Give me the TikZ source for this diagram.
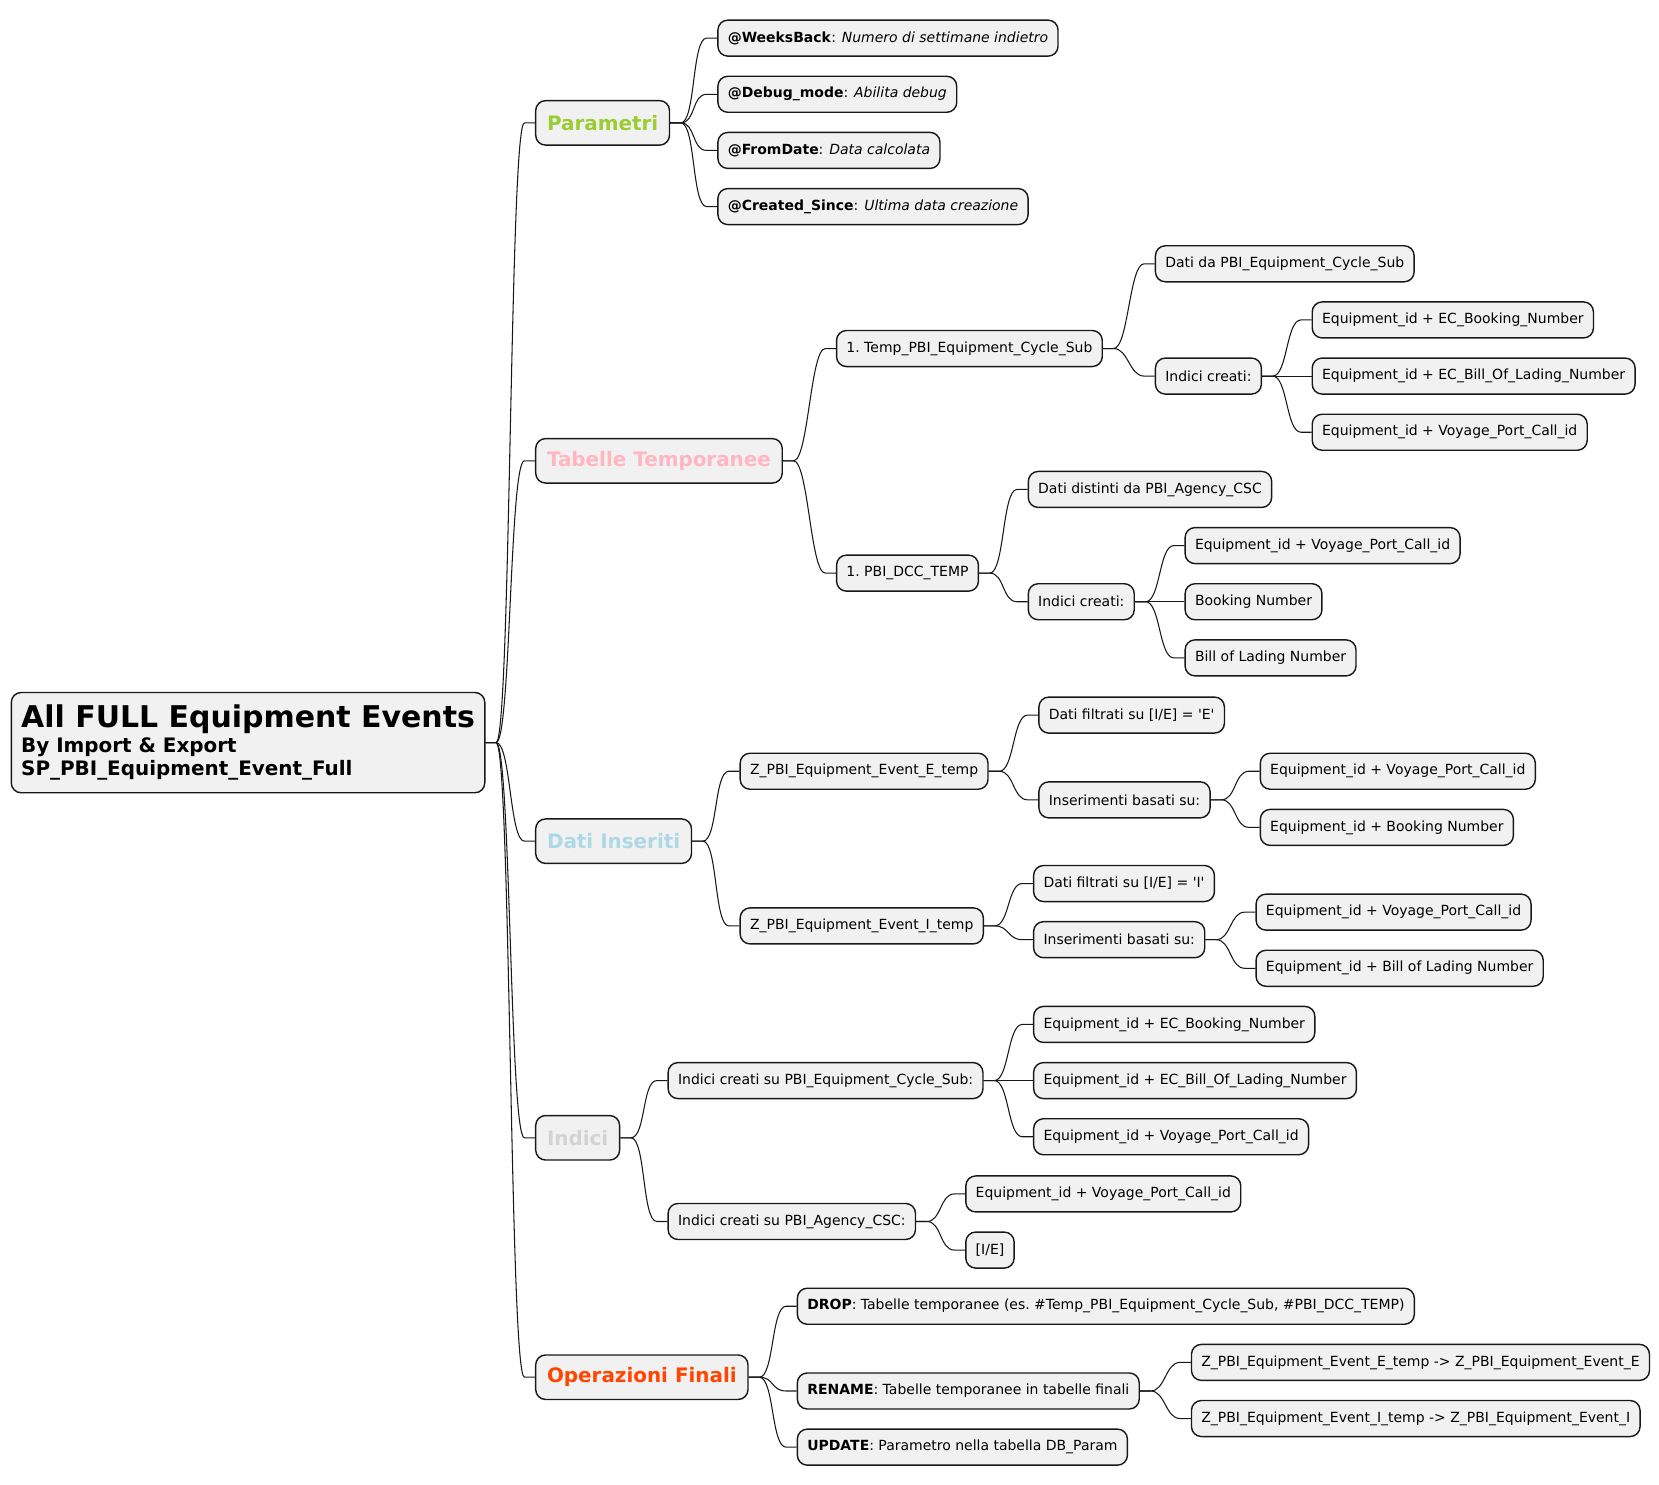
\documentclass[tikz,border=0pt]{standalone}
\usepackage{fontspec}
\setmainfont{DejaVu Sans}
\usetikzlibrary{calc}

\definecolor{boxgray}{RGB}{241,241,241}
\definecolor{boxline}{RGB}{24,24,24}
\definecolor{topicgreen}{RGB}{154,205,50}
\definecolor{topicpink}{RGB}{255,182,193}
\definecolor{topicblue}{RGB}{173,216,230}
\definecolor{topicgray}{RGB}{211,211,211}
\definecolor{topicred}{RGB}{255,69,0}

\tikzset{every picture/.style={line width=0.75pt}}
\tikzset{
  leaf/.style={draw=boxline, fill=boxgray, rounded corners=7pt, line width=1pt, anchor=west,
    inner xsep=7pt, inner ysep=2pt, minimum height=25.5pt, font=\fontsize{9.9}{12}\selectfont},
  topic/.style={leaf, inner xsep=8pt, minimum height=31.5pt, font=\fontsize{14.1}{17}\selectfont\bfseries},
  rootbox/.style={leaf, align=left, inner xsep=7pt, minimum height=71pt, font=\fontsize{14.1}{16.5}\selectfont\bfseries},
  link/.style={draw=boxline, line width=0.75pt}
}

\begin{document}
\begin{tikzpicture}[x=0.75pt,y=0.75pt,yscale=-1,xscale=1]
  \useasboundingbox (0,0) rectangle (1566,1401);

  % Root Node
  \node [rootbox] (root) at (10,701) {{\fontsize{21.2}{24}\selectfont All FULL Equipment Events}\\[1pt]By Import \& Export\\SP\_PBI\_Equipment\_Event\_Full};

  % Text Node
  \node [topic, text=topicgreen] (para) at (505,116) {Parametri};
  % Text Node
  \node [topic, text=topicpink] (tabt) at (505,435) {Tabelle Temporanee};
  % Text Node
  \node [topic, text=topicblue] (dati) at (505,794) {Dati Inseriti};
  % Text Node
  \node [topic, text=topicgray] (idx) at (505,1074) {Indici};
  % Text Node
  \node [topic, text=topicred] (oper) at (505,1300) {Operazioni Finali};

  % Parametri
  \node [leaf] (pweeks) at (677,36) {\textbf{@WeeksBack}: \textit{Numero di settimane indietro}};
  \node [leaf] (pdebug) at (677,89) {\textbf{@Debug\_mode}: \textit{Abilita debug}};
  \node [leaf] (pfrom) at (677,142) {\textbf{@FromDate}: \textit{Data calcolata}};
  \node [leaf] (pcreated) at (677,195) {\textbf{@Created\_Since}: \textit{Ultima data creazione}};

  % Tabelle Temporanee
  \node [leaf] (ttemp) at (789,329) {1.\ Temp\_PBI\_Equipment\_Cycle\_Sub};
  \node [leaf] (tdcc) at (789,541) {1.\ PBI\_DCC\_TEMP};
  \node [leaf] (ttempdati) at (1090,249) {Dati da PBI\_Equipment\_Cycle\_Sub};
  \node [leaf] (ttempidx) at (1090,355) {Indici creati:};
  \node [leaf] (ttempa) at (1238,302) {Equipment\_id + EC\_Booking\_Number};
  \node [leaf] (ttempb) at (1238,355) {Equipment\_id + EC\_Bill\_Of\_Lading\_Number};
  \node [leaf] (ttempc) at (1238,408) {Equipment\_id + Voyage\_Port\_Call\_id};
  \node [leaf] (tdccdati) at (970,462) {Dati distinti da PBI\_Agency\_CSC};
  \node [leaf] (tdccidx) at (970,568) {Indici creati:};
  \node [leaf] (tdcca) at (1118,515) {Equipment\_id + Voyage\_Port\_Call\_id};
  \node [leaf] (tdccb) at (1118,568) {Booking Number};
  \node [leaf] (tdccc) at (1118,621) {Bill of Lading Number};

  % Dati Inseriti
  \node [leaf] (dete) at (698,728) {Z\_PBI\_Equipment\_Event\_E\_temp};
  \node [leaf] (deti) at (698,874) {Z\_PBI\_Equipment\_Event\_I\_temp};
  \node [leaf] (detef) at (980,675) {Dati filtrati su [I/E] = \textquotesingle E\textquotesingle};
  \node [leaf] (detei) at (980,755) {Inserimenti basati su:};
  \node [leaf] (deteia) at (1189,728) {Equipment\_id + Voyage\_Port\_Call\_id};
  \node [leaf] (deteib) at (1189,781) {Equipment\_id + Booking Number};
  \node [leaf] (detif) at (975,834) {Dati filtrati su [I/E] = \textquotesingle I\textquotesingle};
  \node [leaf] (detii) at (975,887) {Inserimenti basati su:};
  \node [leaf] (detiia) at (1185,861) {Equipment\_id + Voyage\_Port\_Call\_id};
  \node [leaf] (detiib) at (1185,914) {Equipment\_id + Bill of Lading Number};

  % Indici
  \node [leaf] (icycle) at (630,1020) {Indici creati su PBI\_Equipment\_Cycle\_Sub:};
  \node [leaf] (iagency) at (630,1153) {Indici creati su PBI\_Agency\_CSC:};
  \node [leaf] (icyclea) at (975,967) {Equipment\_id + EC\_Booking\_Number};
  \node [leaf] (icycleb) at (975,1020) {Equipment\_id + EC\_Bill\_Of\_Lading\_Number};
  \node [leaf] (icyclec) at (975,1073) {Equipment\_id + Voyage\_Port\_Call\_id};
  \node [leaf] (iagencya) at (911,1127) {Equipment\_id + Voyage\_Port\_Call\_id};
  \node [leaf] (iagencyb) at (911,1180) {[I/E]};

  % Operazioni Finali
  \node [leaf] (odrop) at (752,1233) {\textbf{DROP}: Tabelle temporanee (es.\ \#Temp\_PBI\_Equipment\_Cycle\_Sub, \#PBI\_DCC\_TEMP)};
  \node [leaf] (orename) at (752,1313) {\textbf{RENAME}: Tabelle temporanee in tabelle finali};
  \node [leaf] (oupdate) at (752,1366) {\textbf{UPDATE}: Parametro nella tabella DB\_Param};
  \node [leaf] (orenamee) at (1124,1286) {Z\_PBI\_Equipment\_Event\_E\_temp -> Z\_PBI\_Equipment\_Event\_E};
  \node [leaf] (orenamei) at (1124,1339) {Z\_PBI\_Equipment\_Event\_I\_temp -> Z\_PBI\_Equipment\_Event\_I};

  % Curve Lines
  \draw [link] (root.east) -- ++(10,0) .. controls +(14,0) and +(-14,0) .. ($(para.west)+(-10,0)$) -- (para.west);
  \draw [link] (root.east) -- ++(10,0) .. controls +(14,0) and +(-14,0) .. ($(tabt.west)+(-10,0)$) -- (tabt.west);
  \draw [link] (root.east) -- ++(10,0) .. controls +(14,0) and +(-14,0) .. ($(dati.west)+(-10,0)$) -- (dati.west);
  \draw [link] (root.east) -- ++(10,0) .. controls +(14,0) and +(-14,0) .. ($(idx.west)+(-10,0)$) -- (idx.west);
  \draw [link] (root.east) -- ++(10,0) .. controls +(14,0) and +(-14,0) .. ($(oper.west)+(-10,0)$) -- (oper.west);
  % Curve Lines
  \draw [link] (para.east) -- ++(10,0) .. controls +(14,0) and +(-14,0) .. ($(pweeks.west)+(-10,0)$) -- (pweeks.west);
  \draw [link] (para.east) -- ++(10,0) .. controls +(14,0) and +(-14,0) .. ($(pdebug.west)+(-10,0)$) -- (pdebug.west);
  \draw [link] (para.east) -- ++(10,0) .. controls +(14,0) and +(-14,0) .. ($(pfrom.west)+(-10,0)$) -- (pfrom.west);
  \draw [link] (para.east) -- ++(10,0) .. controls +(14,0) and +(-14,0) .. ($(pcreated.west)+(-10,0)$) -- (pcreated.west);
  % Curve Lines
  \draw [link] (tabt.east) -- ++(10,0) .. controls +(14,0) and +(-14,0) .. ($(ttemp.west)+(-10,0)$) -- (ttemp.west);
  \draw [link] (tabt.east) -- ++(10,0) .. controls +(14,0) and +(-14,0) .. ($(tdcc.west)+(-10,0)$) -- (tdcc.west);
  \draw [link] (ttemp.east) -- ++(10,0) .. controls +(14,0) and +(-14,0) .. ($(ttempdati.west)+(-10,0)$) -- (ttempdati.west);
  \draw [link] (ttemp.east) -- ++(10,0) .. controls +(14,0) and +(-14,0) .. ($(ttempidx.west)+(-10,0)$) -- (ttempidx.west);
  \draw [link] (ttempidx.east) -- ++(10,0) .. controls +(14,0) and +(-14,0) .. ($(ttempa.west)+(-10,0)$) -- (ttempa.west);
  \draw [link] (ttempidx.east) -- (ttempb.west);
  \draw [link] (ttempidx.east) -- ++(10,0) .. controls +(14,0) and +(-14,0) .. ($(ttempc.west)+(-10,0)$) -- (ttempc.west);
  \draw [link] (tdcc.east) -- ++(10,0) .. controls +(14,0) and +(-14,0) .. ($(tdccdati.west)+(-10,0)$) -- (tdccdati.west);
  \draw [link] (tdcc.east) -- ++(10,0) .. controls +(14,0) and +(-14,0) .. ($(tdccidx.west)+(-10,0)$) -- (tdccidx.west);
  \draw [link] (tdccidx.east) -- ++(10,0) .. controls +(14,0) and +(-14,0) .. ($(tdcca.west)+(-10,0)$) -- (tdcca.west);
  \draw [link] (tdccidx.east) -- (tdccb.west);
  \draw [link] (tdccidx.east) -- ++(10,0) .. controls +(14,0) and +(-14,0) .. ($(tdccc.west)+(-10,0)$) -- (tdccc.west);
  % Curve Lines
  \draw [link] (dati.east) -- ++(10,0) .. controls +(14,0) and +(-14,0) .. ($(dete.west)+(-10,0)$) -- (dete.west);
  \draw [link] (dati.east) -- ++(10,0) .. controls +(14,0) and +(-14,0) .. ($(deti.west)+(-10,0)$) -- (deti.west);
  \draw [link] (dete.east) -- ++(10,0) .. controls +(14,0) and +(-14,0) .. ($(detef.west)+(-10,0)$) -- (detef.west);
  \draw [link] (dete.east) -- ++(10,0) .. controls +(14,0) and +(-14,0) .. ($(detei.west)+(-10,0)$) -- (detei.west);
  \draw [link] (detei.east) -- ++(10,0) .. controls +(14,0) and +(-14,0) .. ($(deteia.west)+(-10,0)$) -- (deteia.west);
  \draw [link] (detei.east) -- ++(10,0) .. controls +(14,0) and +(-14,0) .. ($(deteib.west)+(-10,0)$) -- (deteib.west);
  \draw [link] (deti.east) -- ++(10,0) .. controls +(14,0) and +(-14,0) .. ($(detif.west)+(-10,0)$) -- (detif.west);
  \draw [link] (deti.east) -- ++(10,0) .. controls +(14,0) and +(-14,0) .. ($(detii.west)+(-10,0)$) -- (detii.west);
  \draw [link] (detii.east) -- ++(10,0) .. controls +(14,0) and +(-14,0) .. ($(detiia.west)+(-10,0)$) -- (detiia.west);
  \draw [link] (detii.east) -- ++(10,0) .. controls +(14,0) and +(-14,0) .. ($(detiib.west)+(-10,0)$) -- (detiib.west);
  % Curve Lines
  \draw [link] (idx.east) -- ++(10,0) .. controls +(14,0) and +(-14,0) .. ($(icycle.west)+(-10,0)$) -- (icycle.west);
  \draw [link] (idx.east) -- ++(10,0) .. controls +(14,0) and +(-14,0) .. ($(iagency.west)+(-10,0)$) -- (iagency.west);
  \draw [link] (icycle.east) -- ++(10,0) .. controls +(14,0) and +(-14,0) .. ($(icyclea.west)+(-10,0)$) -- (icyclea.west);
  \draw [link] (icycle.east) -- (icycleb.west);
  \draw [link] (icycle.east) -- ++(10,0) .. controls +(14,0) and +(-14,0) .. ($(icyclec.west)+(-10,0)$) -- (icyclec.west);
  \draw [link] (iagency.east) -- ++(10,0) .. controls +(14,0) and +(-14,0) .. ($(iagencya.west)+(-10,0)$) -- (iagencya.west);
  \draw [link] (iagency.east) -- ++(10,0) .. controls +(14,0) and +(-14,0) .. ($(iagencyb.west)+(-10,0)$) -- (iagencyb.west);
  % Curve Lines
  \draw [link] (oper.east) -- ++(10,0) .. controls +(14,0) and +(-14,0) .. ($(odrop.west)+(-10,0)$) -- (odrop.west);
  \draw [link] (oper.east) -- ++(10,0) .. controls +(14,0) and +(-14,0) .. ($(orename.west)+(-10,0)$) -- (orename.west);
  \draw [link] (oper.east) -- ++(10,0) .. controls +(14,0) and +(-14,0) .. ($(oupdate.west)+(-10,0)$) -- (oupdate.west);
  \draw [link] (orename.east) -- ++(10,0) .. controls +(14,0) and +(-14,0) .. ($(orenamee.west)+(-10,0)$) -- (orenamee.west);
  \draw [link] (orename.east) -- ++(10,0) .. controls +(14,0) and +(-14,0) .. ($(orenamei.west)+(-10,0)$) -- (orenamei.west);

\end{tikzpicture}
\end{document}
